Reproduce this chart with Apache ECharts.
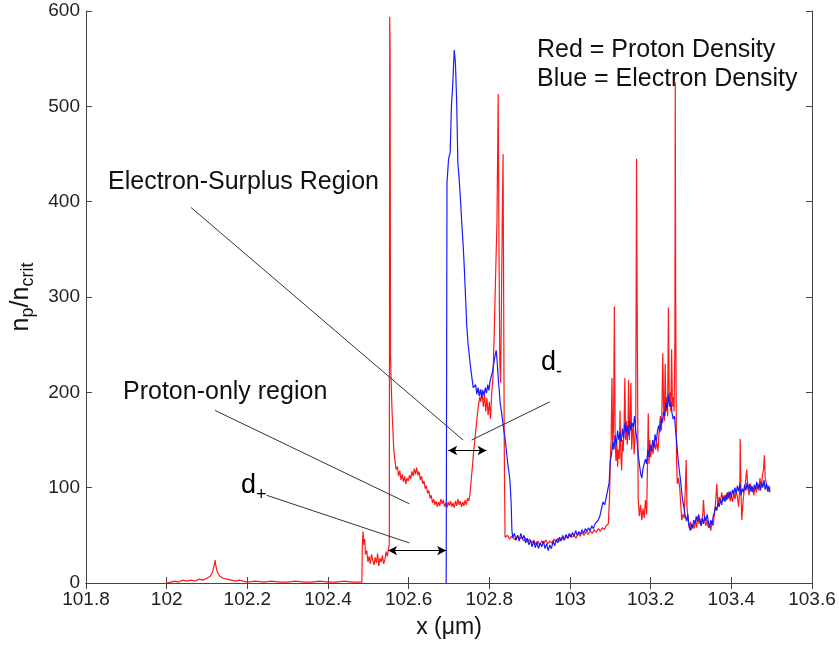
<!DOCTYPE html>
<html>
<head>
<meta charset="utf-8">
<title>Proton / electron density</title>
<script src="https://cdn.jsdelivr.net/npm/echarts@6/dist/echarts.min.js"></script>
<style>
    html, body { margin: 0; padding: 0; background: #fff; }
    #densityChart { width: 839px; height: 647px; }
</style>
</head>
<body>
<div id="densityChart"></div>
<script>
/* ------ data ------ */

var xTicks = [101.8, 103.6, 0.2];     // min, max, step
var yTicks = [0, 600, 100];

// red = proton density  [x (um), n_p/n_crit]
var protonDensity = [
    [102.000,0],[102.010,1],[102.020,2],[102.030,1],[102.040,3],[102.050,2],[102.060,3],[102.070,2],
    [102.080,4],[102.090,3],[102.100,5],[102.108,7],[102.114,12],[102.118,19],[102.120,24],[102.122,18],
    [102.126,11],[102.132,7],[102.140,5],[102.150,4],[102.160,3],[102.170,2],[102.180,3],[102.190,2],
    [102.200,1],[102.220,2],[102.240,1],[102.260,2],[102.280,1],[102.300,1],[102.320,2],[102.340,1],
    [102.360,1],[102.380,2],[102.400,1],[102.420,1],[102.440,2],[102.460,1],[102.484,1],
    [102.485,38],[102.487,54],[102.489,40],[102.491,46],[102.493,30],[102.496,34],[102.499,22],[102.502,28],
    [102.505,20],[102.508,30],[102.511,24],[102.514,19],[102.517,27],[102.520,21],[102.523,31],[102.526,18],
    [102.529,26],[102.532,22],[102.535,29],[102.538,20],[102.541,24],[102.544,33],[102.547,28],[102.550,36],
    [102.552,40],[102.553,594],[102.554,562],[102.555,240],[102.557,205],[102.559,178],[102.561,160],[102.563,140],
    [102.566,128],[102.569,119],[102.572,122],[102.575,112],[102.578,118],[102.581,108],[102.584,114],[102.587,106],
    [102.590,112],[102.593,104],[102.596,110],[102.599,107],[102.602,113],[102.605,109],[102.608,117],[102.611,112],
    [102.614,120],[102.617,114],[102.620,121],[102.623,113],[102.626,117],[102.629,108],[102.632,112],[102.635,104],
    [102.638,107],[102.641,99],[102.644,102],[102.647,94],[102.650,97],[102.653,89],[102.656,92],[102.659,84],
    [102.662,88],[102.665,82],[102.668,86],[102.671,80],[102.674,85],[102.677,81],[102.680,88],[102.683,83],
    [102.686,87],[102.689,80],[102.692,84],[102.695,79],[102.698,85],[102.701,81],[102.704,86],[102.707,80],
    [102.710,84],[102.713,79],[102.716,86],[102.719,81],[102.722,88],[102.725,82],[102.728,86],[102.731,80],
    [102.734,85],[102.737,81],[102.740,87],[102.743,82],[102.746,89],[102.749,86],[102.752,93],[102.755,108],
    [102.758,122],[102.761,138],[102.764,150],[102.767,162],[102.770,175],[102.773,186],[102.776,195],[102.779,190],
    [102.782,203],[102.785,185],[102.788,198],[102.791,180],[102.794,194],[102.797,176],[102.800,190],[102.803,172],
    [102.806,200],[102.809,215],[102.812,260],[102.816,330],[102.819,380],[102.822,513],[102.824,350],[102.826,230],
    [102.828,210],[102.830,290],[102.832,380],[102.834,450],[102.836,250],[102.837,140],[102.839,48],
    [102.845,50],[102.850,46],[102.855,49],[102.860,47],[102.865,45],[102.870,50],[102.875,46],[102.880,48],
    [102.885,44],[102.890,47],[102.895,43],[102.900,46],[102.905,42],[102.910,45],[102.915,41],[102.920,44],
    [102.925,40],[102.930,44],[102.935,42],[102.940,45],[102.945,41],[102.950,44],[102.955,42],[102.960,46],
    [102.965,43],[102.970,47],[102.975,44],[102.980,48],[102.985,45],[102.990,49],[102.995,47],[103.000,51],
    [103.005,48],[103.010,50],[103.015,47],[103.020,52],[103.025,49],[103.030,53],[103.035,50],[103.040,54],
    [103.045,51],[103.050,55],[103.055,52],[103.060,56],[103.065,53],[103.070,57],[103.075,54],[103.080,58],
    [103.085,56],[103.090,60],[103.095,62],[103.098,90],[103.100,128],[103.102,150],[103.104,215],[103.106,140],
    [103.108,165],[103.110,290],[103.112,150],[103.114,128],[103.116,148],[103.118,122],[103.120,140],[103.122,130],
    [103.124,181],[103.126,135],[103.128,118],[103.130,150],[103.132,138],[103.134,165],[103.136,215],[103.138,150],
    [103.140,170],[103.142,145],[103.144,165],[103.145,213],[103.147,150],[103.149,168],[103.151,210],[103.153,140],
    [103.155,160],[103.157,164],[103.159,135],[103.161,150],[103.163,170],[103.165,445],[103.167,250],[103.169,88],
    [103.172,70],[103.175,82],[103.178,66],[103.181,78],[103.184,68],[103.187,87],[103.190,72],[103.192,120],
    [103.194,178],[103.196,125],[103.198,150],[103.200,132],[103.203,145],[103.206,135],[103.209,150],[103.212,140],
    [103.215,148],[103.218,138],[103.221,160],[103.224,175],[103.227,160],[103.230,241],[103.232,185],[103.234,170],
    [103.236,230],[103.238,180],[103.240,195],[103.242,175],[103.244,289],[103.246,190],[103.248,200],[103.250,180],
    [103.252,245],[103.254,185],[103.256,195],[103.258,180],[103.260,250],[103.261,525],[103.262,300],[103.264,130],
    [103.266,104],[103.269,110],[103.272,100],[103.275,80],[103.277,66],[103.280,72],[103.283,68],[103.286,100],
    [103.288,129],[103.290,80],[103.293,66],[103.296,58],[103.299,64],[103.302,56],[103.305,62],[103.308,57],
    [103.311,65],[103.314,58],[103.317,70],[103.320,62],[103.323,67],[103.326,60],[103.329,72],[103.331,87],
    [103.334,65],[103.337,60],[103.340,66],[103.343,58],[103.346,62],[103.349,55],[103.352,64],[103.355,60],
    [103.358,72],[103.361,85],[103.364,104],[103.367,80],[103.370,90],[103.373,84],[103.376,95],[103.379,88],
    [103.382,92],[103.385,85],[103.388,94],[103.391,88],[103.394,96],[103.397,86],[103.400,92],[103.403,85],
    [103.406,95],[103.409,88],[103.412,96],[103.415,90],[103.418,80],[103.421,100],[103.422,151],[103.424,95],
    [103.426,66],[103.429,85],[103.432,98],[103.435,105],[103.438,119],[103.441,100],[103.444,92],[103.447,104],
    [103.450,96],[103.453,100],[103.456,92],[103.459,102],[103.462,95],[103.465,104],[103.468,97],[103.471,110],
    [103.474,100],[103.477,112],[103.480,120],[103.482,134],[103.484,110],[103.487,104],[103.490,100],[103.493,96],
    [103.496,100]
];

// blue = electron density
var electronDensity = [
    [102.693,0],[102.695,420],[102.699,445],[102.703,452],[102.706,500],[102.709,520],[102.711,540],[102.713,559],
    [102.716,545],[102.719,505],[102.722,440],[102.725,425],[102.728,405],[102.732,375],[102.735,355],[102.738,330],
    [102.741,300],[102.744,270],[102.747,252],[102.750,240],[102.753,228],[102.756,218],[102.760,205],[102.763,203],
    [102.766,208],[102.769,198],[102.772,205],[102.775,196],[102.778,203],[102.781,194],[102.784,202],[102.787,197],
    [102.790,205],[102.793,199],[102.796,208],[102.799,202],[102.802,212],[102.805,210],[102.808,222],[102.811,230],
    [102.814,238],[102.817,244],[102.819,235],[102.821,222],[102.823,210],[102.825,200],[102.827,188],[102.830,180],
    [102.833,170],[102.836,160],[102.839,152],[102.842,140],[102.845,128],[102.848,118],[102.851,108],[102.854,85],
    [102.856,55],[102.858,48],[102.862,52],[102.866,45],[102.870,50],[102.874,44],[102.878,52],[102.882,46],
    [102.886,50],[102.890,42],[102.894,47],[102.898,40],[102.902,45],[102.906,38],[102.910,44],[102.914,37],
    [102.918,43],[102.922,36],[102.926,42],[102.930,38],[102.934,44],[102.938,36],[102.942,41],[102.946,34],
    [102.950,40],[102.954,36],[102.958,44],[102.962,39],[102.966,46],[102.970,42],[102.974,48],[102.978,44],
    [102.982,50],[102.986,45],[102.990,51],[102.994,47],[102.998,52],[103.002,48],[103.006,53],[103.010,49],
    [103.014,55],[103.018,50],[103.022,54],[103.026,51],[103.030,56],[103.034,52],[103.038,57],[103.042,54],
    [103.046,58],[103.050,55],[103.054,60],[103.058,57],[103.062,62],[103.066,60],[103.070,66],[103.074,70],
    [103.078,78],[103.082,85],[103.086,82],[103.090,90],[103.094,92],[103.097,105],[103.100,128],[103.103,135],
    [103.106,148],[103.109,140],[103.112,155],[103.115,145],[103.118,160],[103.121,150],[103.124,158],[103.127,148],
    [103.130,162],[103.133,152],[103.136,168],[103.139,158],[103.142,165],[103.145,155],[103.148,170],[103.151,160],
    [103.154,168],[103.157,163],[103.160,175],[103.163,160],[103.166,150],[103.169,135],[103.172,125],[103.175,115],
    [103.178,110],[103.181,120],[103.184,118],[103.187,130],[103.190,125],[103.193,140],[103.196,132],[103.199,145],
    [103.202,138],[103.205,150],[103.208,142],[103.211,156],[103.214,148],[103.217,160],[103.220,165],[103.223,158],
    [103.226,172],[103.229,168],[103.232,180],[103.235,175],[103.238,190],[103.241,183],[103.244,198],[103.247,185],
    [103.250,190],[103.253,178],[103.256,172],[103.259,175],[103.262,160],[103.265,145],[103.268,130],[103.271,118],
    [103.274,108],[103.277,95],[103.280,85],[103.283,78],[103.286,70],[103.289,65],[103.292,72],[103.295,60],
    [103.298,55],[103.301,62],[103.304,58],[103.307,66],[103.310,62],[103.313,70],[103.316,64],[103.319,72],
    [103.322,66],[103.325,60],[103.328,68],[103.331,62],[103.334,70],[103.337,65],[103.340,72],[103.343,64],
    [103.346,58],[103.349,66],[103.352,61],[103.355,70],[103.358,74],[103.361,80],[103.364,76],[103.367,84],
    [103.370,80],[103.373,88],[103.376,82],[103.379,90],[103.382,86],[103.385,92],[103.388,87],[103.391,95],
    [103.394,89],[103.397,96],[103.400,90],[103.403,98],[103.406,93],[103.409,100],[103.412,94],[103.415,102],
    [103.418,96],[103.421,104],[103.424,92],[103.427,99],[103.430,95],[103.433,103],[103.436,97],[103.439,105],
    [103.442,98],[103.445,104],[103.448,96],[103.451,102],[103.454,95],[103.457,103],[103.460,98],[103.463,106],
    [103.466,99],[103.469,104],[103.472,97],[103.475,106],[103.478,100],[103.481,108],[103.484,98],[103.487,104],
    [103.490,96],[103.493,102],[103.496,95]
];

// pointer lines drawn on the figure, in data units
var pointerLines = [
    [[102.060, 394], [102.735, 150]],   // Electron-Surplus Region
    [[102.950, 190], [102.756, 150]],   // d-
    [[102.120, 181], [102.602, 83]],    // Proton-only region
    [[102.248, 92], [102.602, 42]]      // d+
];
var widthArrows = [
    [[102.698, 139], [102.793, 139]],   // d-
    [[102.549, 34], [102.693, 34]]      // d+
];

/* ------ chart ------ */

var FONT = '"Liberation Sans", Arial, Helvetica, sans-serif';
var densityChart = echarts.init(document.getElementById('densityChart'));

function tickText(v) {
    return String(Math.round(v * 10) / 10);
}

var frameAxis = {
    axisLine: { show: true, lineStyle: { color: '#444', width: 1 } },
    axisTick: { show: true, inside: true, length: 6, lineStyle: { color: '#444' } },
    splitLine: { show: false }
};

var marks = [];
pointerLines.forEach(function (l) {
    marks.push([{ coord: l[0], symbol: 'none' }, { coord: l[1], symbol: 'none' }]);
});
widthArrows.forEach(function (l) {
    marks.push([
        { coord: l[0], symbol: 'arrow', symbolSize: [7, 9], lineStyle: { color: '#000' } },
        { coord: l[1], symbol: 'arrow', symbolSize: [7, 9], lineStyle: { color: '#000' } }
    ]);
});

// "d" with a subscript; subH pushes the subscript down (smaller = lower)
function dLabel(left, top, sub, subH) {
    return {
        type: 'text', left: left, top: top,
        style: {
            text: '{d|d}{s|' + sub + '}',
            rich: {
                d: { fontFamily: FONT, fontSize: 27, fill: '#000', lineHeight: 32, verticalAlign: 'top' },
                s: { fontFamily: FONT, fontSize: 18, fill: '#000', lineHeight: subH, verticalAlign: 'bottom' }
            }
        }
    };
}

option = {
    backgroundColor: '#fff',
    animation: false,
    grid: { left: 86, right: 27, top: 11, bottom: 64 },
    xAxis: [
        echarts.util.merge({
            type: 'value',
            min: xTicks[0], max: xTicks[1], interval: xTicks[2],
            name: 'x (\u03bcm)',
            nameLocation: 'middle',
            nameGap: 33,
            nameTextStyle: { fontFamily: FONT, fontSize: 23, color: '#111' },
            axisLabel: { fontFamily: FONT, fontSize: 19, color: '#222', margin: 7, formatter: tickText }
        }, frameAxis, true),
        echarts.util.merge({
            type: 'value', position: 'top',
            min: xTicks[0], max: xTicks[1], interval: xTicks[2],
            axisLabel: { show: false }
        }, frameAxis, true)
    ],
    yAxis: [
        echarts.util.merge({
            type: 'value',
            min: yTicks[0], max: yTicks[1], interval: yTicks[2],
            name: '{m|n}{s|p}{m|/n}{s|crit}',
            nameLocation: 'middle',
            nameRotate: 90,
            nameGap: 45,
            nameTextStyle: {
                rich: {
                    m: { fontFamily: FONT, fontSize: 25, color: '#111', lineHeight: 32 },
                    s: { fontFamily: FONT, fontSize: 18, color: '#111', verticalAlign: 'bottom' }
                }
            },
            axisLabel: { fontFamily: FONT, fontSize: 19, color: '#222', margin: 6 }
        }, frameAxis, true),
        echarts.util.merge({
            type: 'value', position: 'right',
            min: yTicks[0], max: yTicks[1], interval: yTicks[2],
            axisLabel: { show: false }
        }, frameAxis, true)
    ],
    series: [
        {
            name: 'Proton Density',
            type: 'line',
            data: protonDensity,
            showSymbol: false,
            lineStyle: { color: '#ff1a1a', width: 1.2 },
            z: 2
        },
        {
            name: 'Electron Density',
            type: 'line',
            data: electronDensity,
            showSymbol: false,
            lineStyle: { color: '#1a1aff', width: 1.2 },
            z: 3,
            markLine: {
                silent: true,
                symbol: 'none',
                label: { show: false },
                lineStyle: { color: '#333', width: 1, type: 'solid' },
                data: marks
            }
        }
    ],
    graphic: [
        {
            type: 'text', left: 537, top: 36,
            style: {
                text: 'Red = Proton Density\nBlue = Electron Density',
                font: '25px ' + FONT, fill: '#111', lineHeight: 29
            }
        },
        {
            type: 'text', left: 108, top: 170,
            style: { text: 'Electron-Surplus Region', font: '25px ' + FONT, fill: '#111' }
        },
        {
            type: 'text', left: 123, top: 380,
            style: { text: 'Proton-only region', font: '25px ' + FONT, fill: '#111' }
        },
        dLabel(241, 472, '+', 14),
        dLabel(541, 349, '-', 6)
    ]
};
densityChart.setOption(option);
</script>
</body>
</html>
